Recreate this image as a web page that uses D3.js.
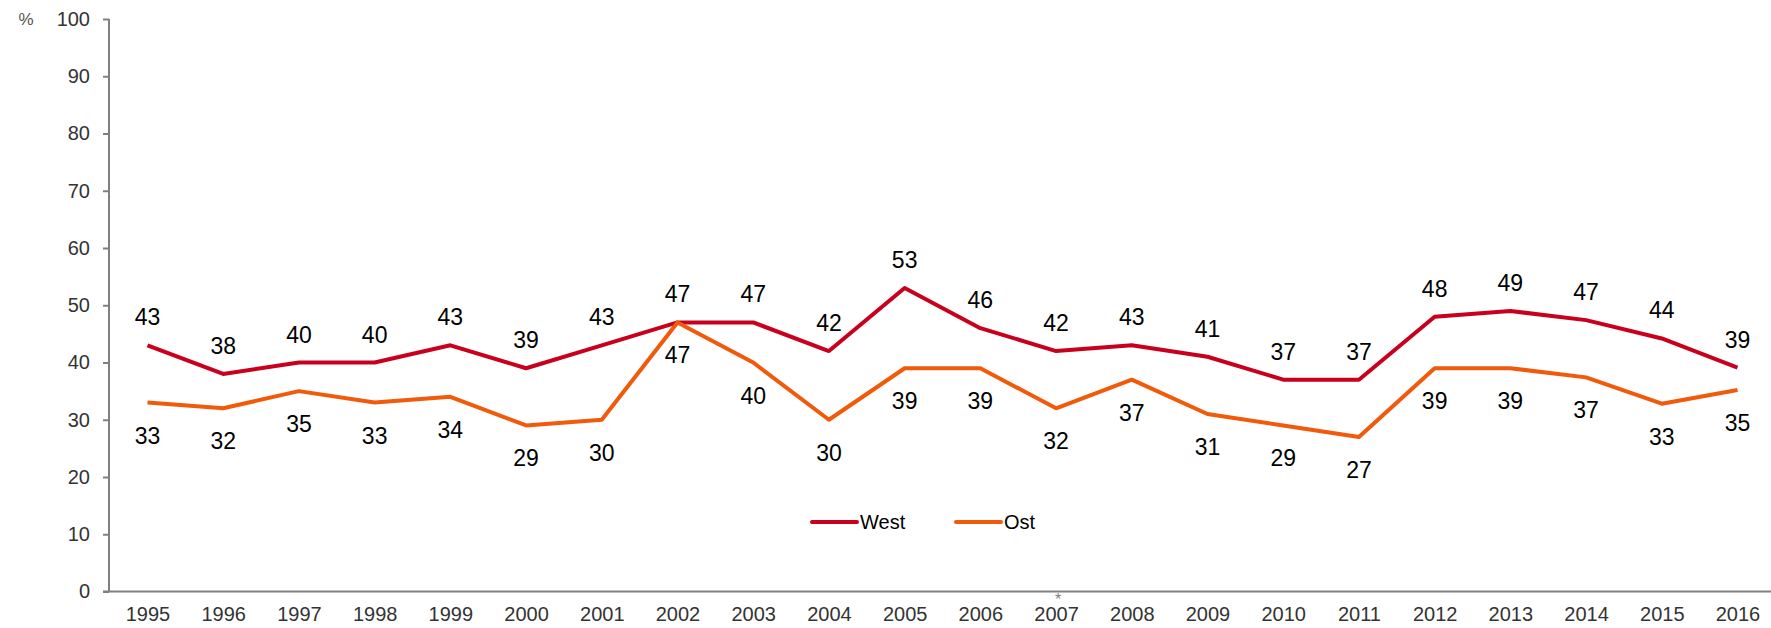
<!DOCTYPE html>
<html><head><meta charset="utf-8">
<script src="https://cdn.jsdelivr.net/npm/d3@7"></script>
<style>
html,body{margin:0;padding:0;background:#fff;}
text{font-family:"Liberation Sans",Arial,sans-serif;}
</style></head>
<body><svg id="c" width="1771" height="628"></svg>
<script>
const years = ["1995","1996","1997","1998","1999","2000","2001","2002","2003","2004","2005","2006","2007","2008","2009","2010","2011","2012","2013","2014","2015","2016"];
const west = [43,38,40,40,43,39,43,47,47,42,53,46,42,43,41,37,37,48,49,47.4,44.2,39.1];
const ost  = [33,32,35,33,34,29,30,47,40,30,39,39,32,37,31,29,27,39,39,37.4,32.8,35.2];
const yTicks = [0,10,20,30,40,50,60,70,80,90,100];
const seriesNames = ["West","Ost"];
const colors = ["#C8001E","#F05A0A"];

const svg = d3.select("#c");
const x = d3.scalePoint().domain(years).range([147.5, 1737.5]);
const y = d3.scaleLinear().domain([0,100]).range([591.5, 19]);
const axisColor = "#808080";

// y axis
const ya = svg.append("g").attr("transform","translate(109,0)")
  .call(d3.axisLeft(y).tickValues(yTicks).tickSize(6).tickPadding(13));
ya.select(".domain").attr("stroke",axisColor).attr("stroke-width",2).attr("d","M0,19V591.5");
ya.selectAll(".tick line").attr("stroke",axisColor).attr("stroke-width",2);
ya.selectAll(".tick text").attr("fill","#333").style("font-size","20px").attr("font-family","Liberation Sans, Arial, sans-serif");
svg.append("text").attr("x",26).attr("y",y(100)).attr("dy","0.35em").attr("text-anchor","middle")
  .attr("fill","#555").style("font-size","17px").text("%");

// x axis
const xa = svg.append("g").attr("transform",`translate(0,${y(0)})`)
  .call(d3.axisBottom(x).tickSize(0).tickPadding(15));
xa.select(".domain").attr("stroke",axisColor).attr("stroke-width",2).attr("d","M103,0H1771");
xa.selectAll(".tick text").attr("fill","#333").style("font-size","20px").attr("font-family","Liberation Sans, Arial, sans-serif");
svg.append("text").attr("x",x("2007")+2).attr("y",y(0)+13).attr("text-anchor","middle")
  .attr("fill","#808080").style("font-size","16px").text("*");

const line = d3.line().x((d,i)=>x(years[i])).y(d=>y(d));
[west,ost].forEach((s,k)=>{
  svg.append("path").datum(s).attr("d",line).attr("fill","none")
    .attr("stroke",colors[k]).attr("stroke-width",4).attr("stroke-linejoin","round");
});
// labels
svg.append("g").selectAll("text").data(west).join("text")
  .attr("x",(d,i)=>x(years[i])).attr("y",d=>y(d)-20)
  .attr("text-anchor","middle").style("font-size","23px").attr("fill","#000")
  .text(d=>Math.round(d));
svg.append("g").selectAll("text").data(ost).join("text")
  .attr("x",(d,i)=>x(years[i])).attr("y",d=>y(d)+41)
  .attr("text-anchor","middle").style("font-size","23px").attr("fill","#000")
  .text(d=>Math.round(d));

// legend
const lg = svg.append("g");
const lx = [812, 956];
seriesNames.forEach((n,k)=>{
  lg.append("line").attr("x1",lx[k]).attr("x2",lx[k]+45).attr("y1",522).attr("y2",522)
    .attr("stroke",colors[k]).attr("stroke-width",4).attr("stroke-linecap","round");
  lg.append("text").attr("x",lx[k]+48).attr("y",522).attr("dy","0.35em")
    .style("font-size","20px").attr("fill","#000").text(n);
});
</script></body></html>
